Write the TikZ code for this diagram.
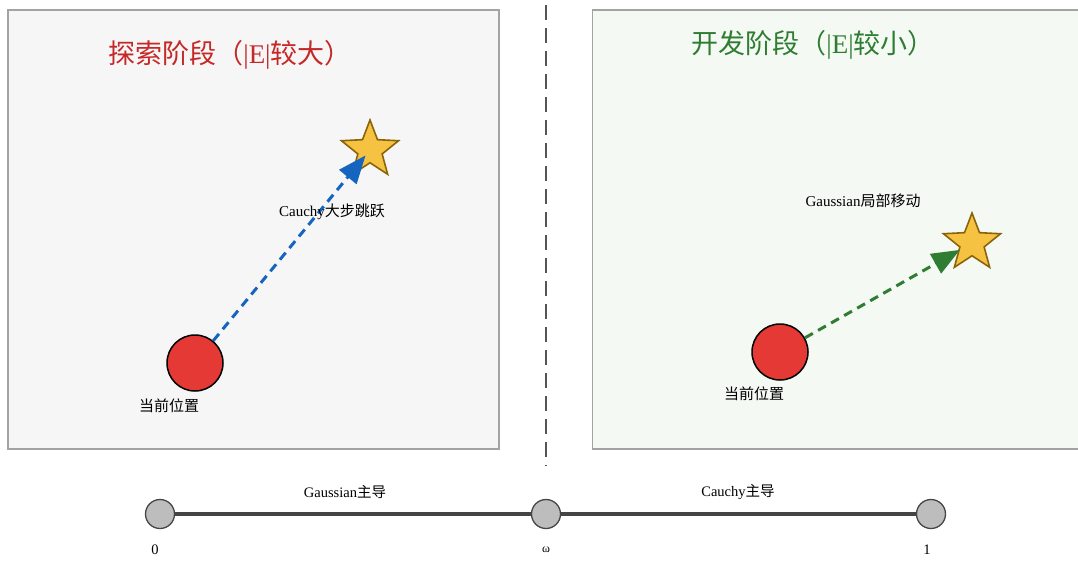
\documentclass[tikz,border=0pt]{standalone}
\usepackage{fontspec}
\setmainfont{Liberation Serif}
\newfontfamily\cjk{Noto Sans CJK SC}
\usetikzlibrary{shapes.geometric,arrows.meta}
\definecolor{panelgray}{HTML}{F6F6F6}
\definecolor{panelgreen}{HTML}{F4F9F3}
\definecolor{panelborder}{HTML}{A3A3A3}
\definecolor{titlered}{HTML}{C62828}
\definecolor{titlegreen}{HTML}{2E7D32}
\definecolor{dotred}{HTML}{E53935}
\definecolor{starfill}{HTML}{F5C242}
\definecolor{starline}{HTML}{8A6508}
\definecolor{arrowblue}{HTML}{1565C0}
\definecolor{arrowgreen}{HTML}{2E7D32}
\definecolor{axisgray}{HTML}{454545}
\definecolor{knobgray}{HTML}{BDBDBD}
\definecolor{sepgray}{HTML}{555555}
\tikzset{
  panel/.style={draw=panelborder, line width=1.4pt},
  titletext/.style={font=\fontsize{27}{31}\selectfont, anchor=center, inner sep=0pt},
  current/.style={circle, draw=black, line width=1.5pt, fill=dotred, minimum size=56pt, inner sep=0pt},
  target/.style={star, star points=5, star point ratio=2.35, draw=starline, line width=1.6pt, fill=starfill, minimum size=60pt, inner sep=0pt},
  lbl/.style={font=\fontsize{15}{18}\selectfont, inner sep=0pt, anchor=center},
  jump/.style={line width=3pt, dash pattern=on 9pt off 6pt, -{Triangle[length=28pt,width=22pt]}},
  knob/.style={circle, draw=axisgray, line width=1.3pt, fill=knobgray, minimum size=29pt, inner sep=0pt},
  axlbl/.style={font=\fontsize{14.5}{17}\selectfont, inner sep=0pt, anchor=center},
}
\begin{document}
\begin{tikzpicture}[x=1pt, y=-1pt]
\useasboundingbox (0,0) rectangle (1078,560);
\clip (0,0) rectangle (1078,560);
\fill[white] (0,0) rectangle (1078,560);
% panels
\draw[panel, fill=panelgray] (8,10) rectangle (499,449);
\draw[panel, fill=panelgreen] (592.5,10) rectangle (1090,449);
% separator
\coordinate (septop) at (546,5);
\coordinate (sepbot) at (546,466);
\draw[sepgray, line width=2pt, dash pattern=on 15pt off 8pt] (septop) -- (sepbot);
% titles
\node[titletext, text=titlered] (t1) at (230,55) {{\cjk 探索阶段（}|E|{\cjk 较大）}};
\node[titletext, text=titlegreen] (t2) at (813,45) {{\cjk 开发阶段（}|E|{\cjk 较小）}};
% left panel
\node[current] (c1) at (195,363) {};
\node[target] (s1) at (370,150) {};
\node[lbl] (l1) at (169,406) {{\cjk 当前位置}};
\draw[jump, arrowblue, shorten >=7pt] (c1) -- (s1.center);
\node[lbl] (j1) at (332,212) {Cauchy{\cjk 大步跳跃}};
% right panel
\node[current] (c2) at (780,352) {};
\node[target] (s2) at (972,243) {};
\node[lbl] (l2) at (754,394) {{\cjk 当前位置}};
\draw[jump, arrowgreen, shorten >=14pt] (c2) -- (s2.center);
\node[lbl] (j2) at (863,201) {Gaussian{\cjk 局部移动}};
% bottom axis
\coordinate (p0) at (160,514);
\coordinate (pw) at (546,514);
\coordinate (p1) at (931,514);
\draw[axisgray, line width=4pt] (p0) -- (pw) -- (p1);
\node[knob] (k0) at (p0) {};
\node[knob] (kw) at (pw) {};
\node[knob] (k1) at (p1) {};
\node[axlbl] (a1) at (345,492) {Gaussian{\cjk 主导}};
\node[axlbl] (a2) at (738,492) {Cauchy{\cjk 主导}};
\node[axlbl] (n0) at (155,550) {0};
\node[axlbl, font=\fontsize{12}{14}\selectfont] (nw) at (546,550) {ω};
\node[axlbl] (n1) at (927,550) {1};
\end{tikzpicture}
\end{document}
